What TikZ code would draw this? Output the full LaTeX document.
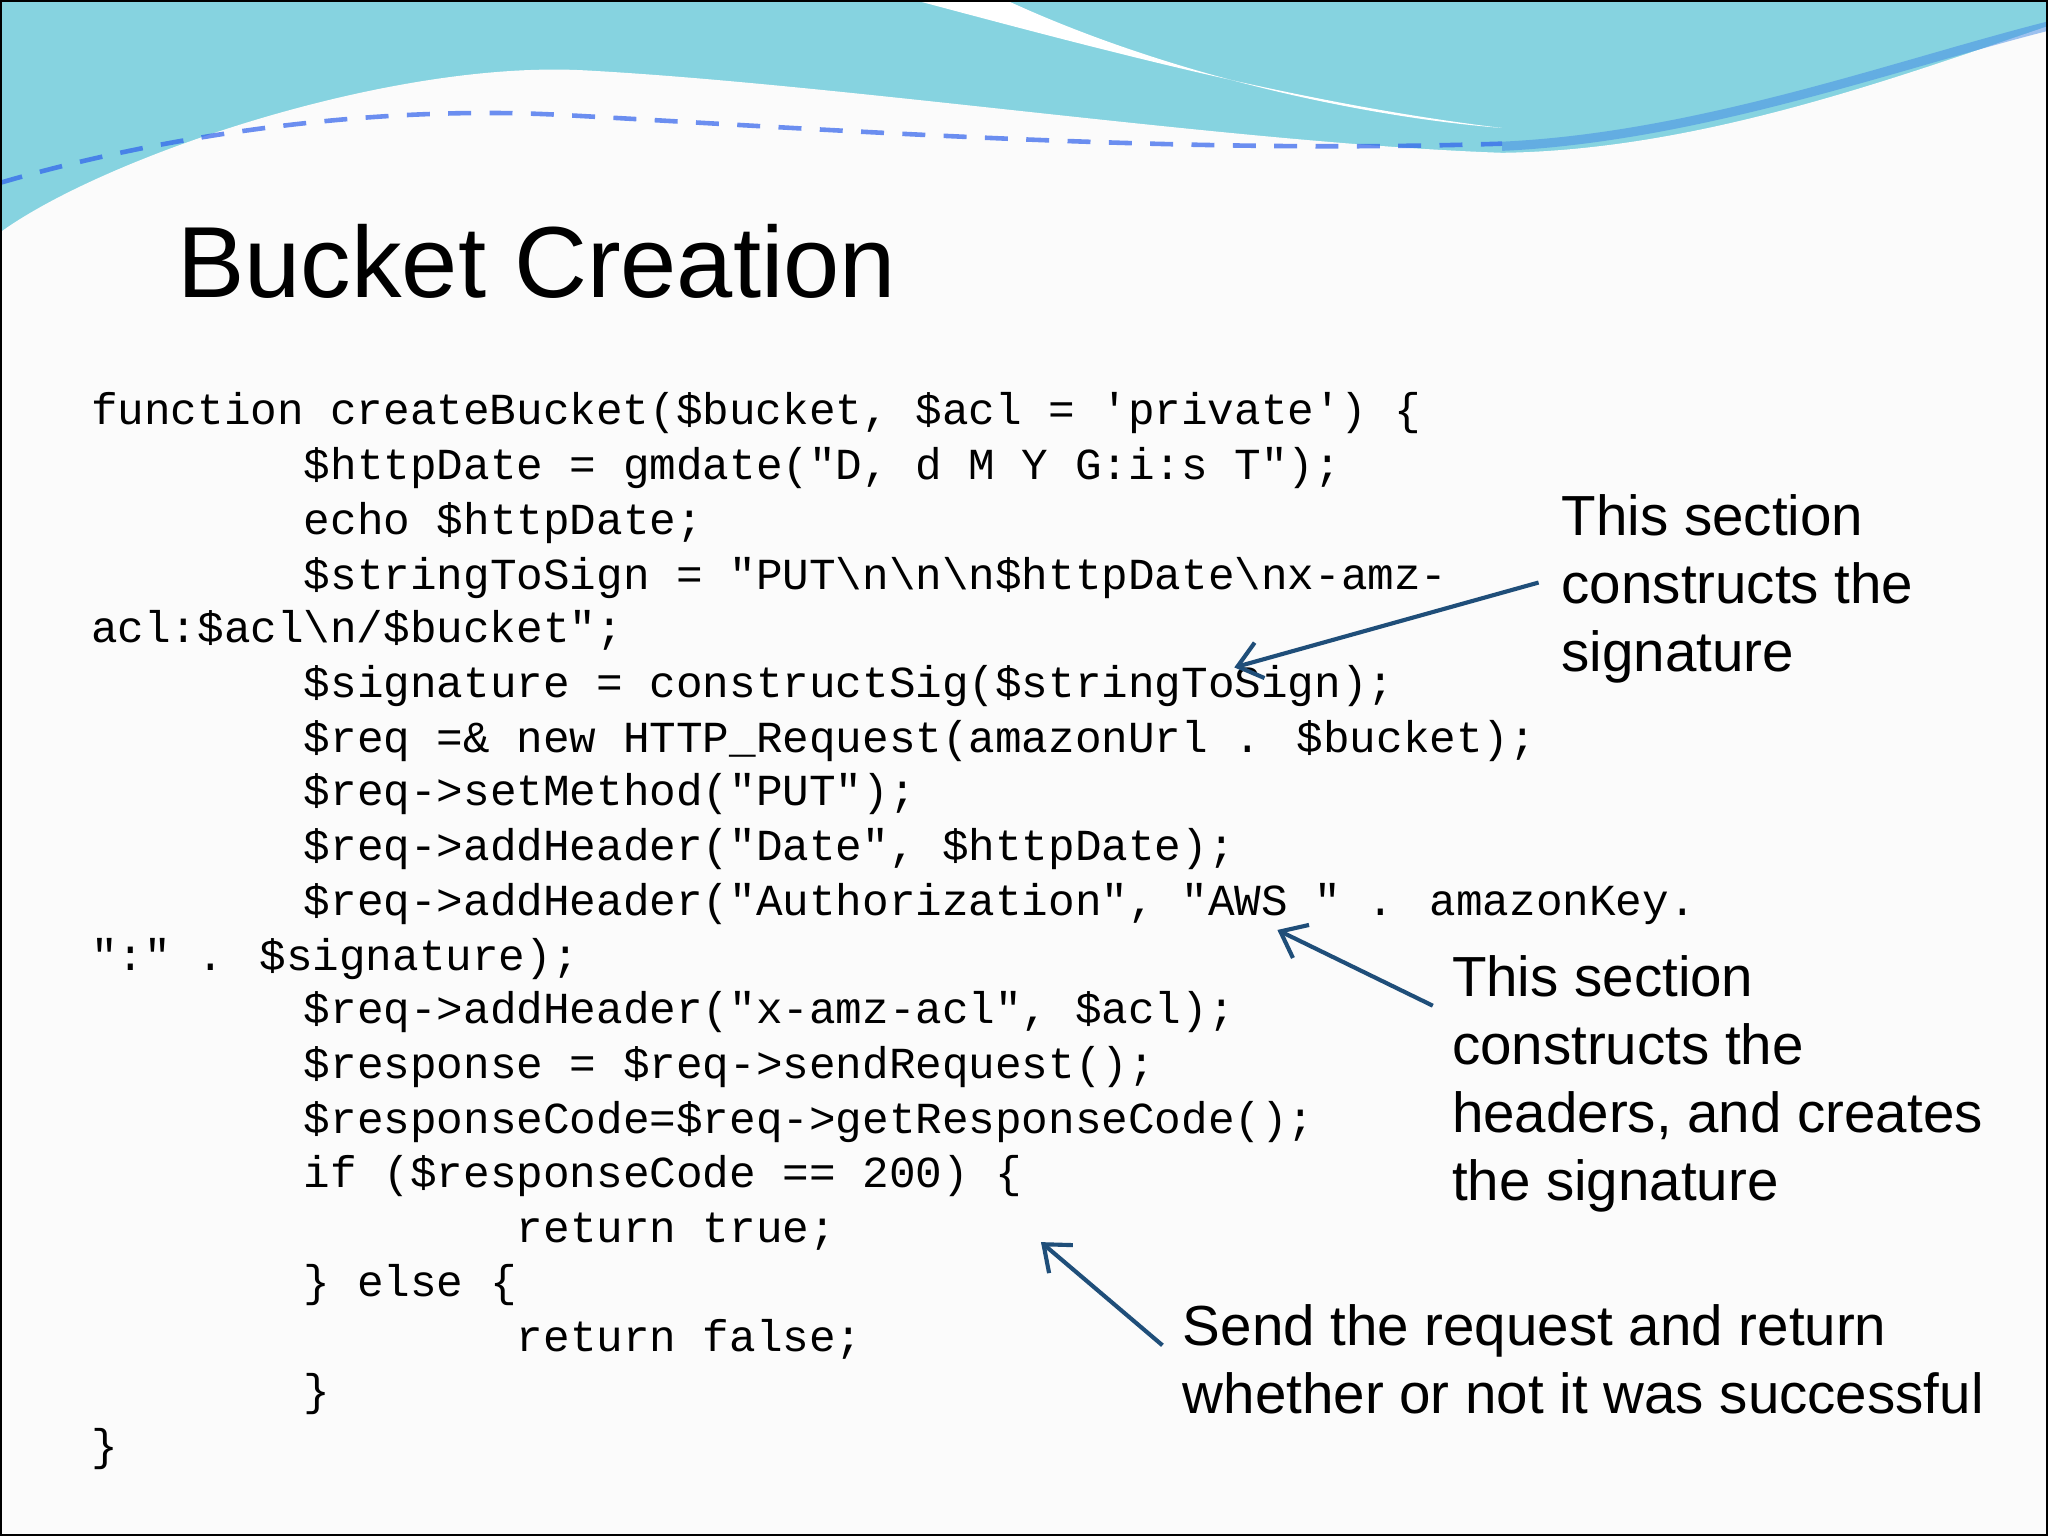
\documentclass[tikz,border=0pt]{standalone}
\usepackage{fontspec}
\usetikzlibrary{arrows.meta}
\newfontfamily\codefont{Liberation Mono}
\newfontfamily\sansf{Liberation Sans}
\definecolor{teal1}{HTML}{86D3E0}
\definecolor{teal2}{HTML}{5CC3D8}
\definecolor{arrowblue}{HTML}{1F4E79}
\begin{document}
\begin{tikzpicture}[x=0.01cm,y=-0.01cm,
  code/.style={anchor=base west,inner sep=0pt,font=\codefont\fontsize{9.65pt}{11.8pt}\selectfont},
  note/.style={anchor=north west,inner sep=0pt,align=left,font=\sansf\fontsize{12.3pt}{14.8pt}\selectfont},
  callout/.style={draw=arrowblue,line width=0.9pt,-{Straight Barb[length=5pt,width=8pt]}}]
\useasboundingbox (0,0) rectangle (1568,1176);
\fill[white!97!gray] (0,0) rectangle (1568,1176);
% wave background
\fill[teal1] (0,0) rectangle (1568,180);
\fill[white!97!gray] (0,178) .. controls (80,120) and (300,45) .. (450,54)
  .. controls (650,65) and (950,110) .. (1150,117)
  .. controls (1300,115) and (1450,60) .. (1568,20) -- (1568,180) -- (0,180) -- cycle;
\fill[white] (700,0) -- (770,0) .. controls (900,60) and (1050,90) .. (1150,98)
  .. controls (1000,80) and (850,40) .. (700,0) -- cycle;
\draw[teal2!70!blue,line width=2pt,opacity=0.5] (1150,112) .. controls (1300,105) and (1450,50) .. (1568,20);
\draw[teal2!50!blue,line width=1pt,opacity=0.7,dash pattern=on 5pt off 4pt] (0,140) .. controls (120,105) and (280,80) .. (430,88)
  .. controls (650,100) and (900,118) .. (1150,110);
\draw[black,line width=0.8pt] (0,0) rectangle (1568,1176);
% title
\node[anchor=base west,inner sep=0pt,font=\sansf\fontsize{22pt}{26pt}\selectfont] (title) at (135,228) {Bucket Creation};
% code
\node[code] (l1) at (69,325) {function createBucket(\$bucket, \$acl = 'private') \{};
\node[code] (l2) at (232,367) {\$httpDate = gmdate("D, d M Y G:i:s T");};
\node[code] (l3) at (232,409) {echo \$httpDate;};
\node[code] (l4) at (232,451) {\$stringToSign = "PUT\textbackslash n\textbackslash n\textbackslash n\$httpDate\textbackslash nx-amz-};
\node[code] (l5) at (69,492) {acl:\$acl\textbackslash n/\$bucket";};
\node[code] (l6) at (232,534) {\$signature = constructSig(\$stringToSign);};
\node[code] (l7) at (232,576) {\$req =\& new HTTP\_Request(amazonUrl . \$bucket);};
\node[code] (l8) at (232,617) {\$req->setMethod("PUT");};
\node[code] (l9) at (232,659) {\$req->addHeader("Date", \$httpDate);};
\node[code] (l10) at (232,701) {\$req->addHeader("Authorization", "AWS " . amazonKey.};
\node[code] (l11) at (69,743) {":" . \$signature);};
\node[code] (l12) at (232,784) {\$req->addHeader("x-amz-acl", \$acl);};
\node[code] (l13) at (232,826) {\$response = \$req->sendRequest();};
\node[code] (l14) at (232,868) {\$responseCode=\$req->getResponseCode();};
\node[code] (l15) at (232,909) {if (\$responseCode == 200) \{};
\node[code] (l16) at (395,951) {return true;};
\node[code] (l17) at (232,993) {\} else \{};
\node[code] (l18) at (395,1035) {return false;};
\node[code] (l19) at (232,1076) {\}};
\node[code] (l20) at (69,1118) {\}};
% notes
\node[note] (n1) at (1195,378) {This section\\constructs the\\signature};
\node[note] (n2) at (1111,731) {This section\\constructs the\\headers, and creates\\the signature};
\node[note] (n3) at (905,998) {Send the request and return\\whether or not it was successful};
\coordinate (t1) at (945,511);
\coordinate (t2) at (978,712);
\coordinate (t3) at (797,951);
\draw[callout] (1178,446) -- (t1);
\draw[callout] (1097,770) -- (t2);
\draw[callout] (890,1030) -- (t3);
\end{tikzpicture}
\end{document}
